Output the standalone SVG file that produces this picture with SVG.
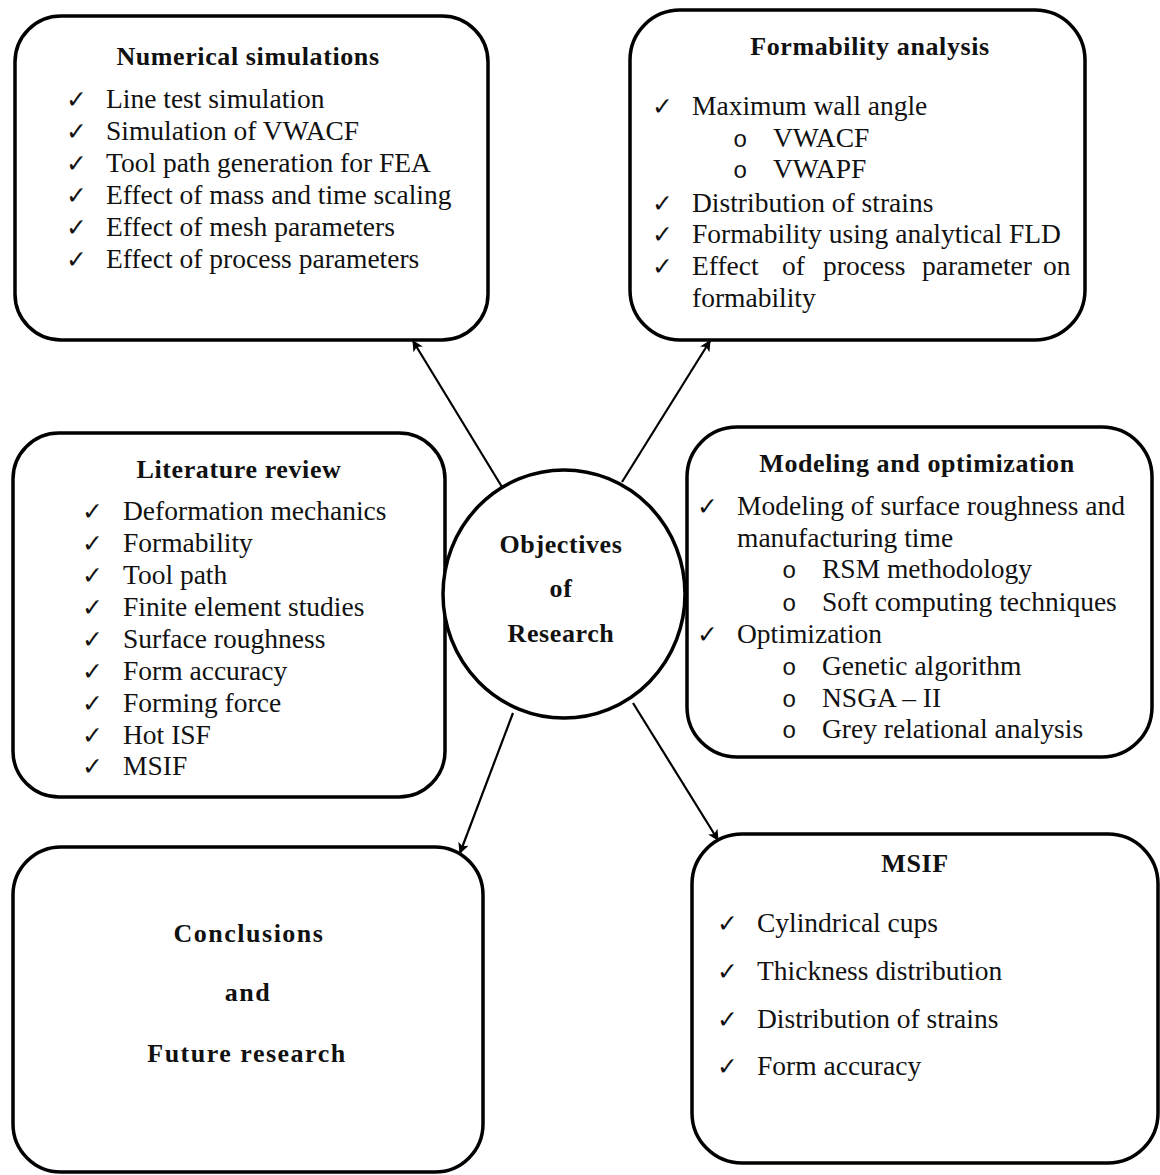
<svg xmlns="http://www.w3.org/2000/svg" width="1160" height="1175" viewBox="0 0 1160 1175">
<style>
.box{fill:#fff;stroke:#000;stroke-width:3.5}
.t{font-family:"Liberation Serif","Times New Roman",serif;font-size:27.5px;fill:#111}
.h{font-family:"Liberation Serif","Times New Roman",serif;font-size:26px;font-weight:bold;fill:#111;text-anchor:middle;letter-spacing:0.6px}
.ck{font-family:"DejaVu Sans",sans-serif;font-size:25px;fill:#111}
.b{font-family:"Liberation Mono","Courier New",monospace;font-size:24px;fill:#111}
.c{stroke:#000;stroke-width:2.2;fill:none;marker-end:url(#ah)}
</style>
<defs>
<marker id="ah" viewBox="0 0 10 10" refX="9" refY="5" markerWidth="5" markerHeight="5" orient="auto" markerUnits="strokeWidth">
<path d="M0,0 L10,5 L0,10 L2.5,5 z" fill="#000"/>
</marker>
</defs>
<rect width="1160" height="1175" fill="#fff"/>

<g id="connectors">
<line class="c" x1="502" y1="487" x2="413" y2="341"/>
<line class="c" x1="622" y1="482" x2="710" y2="341"/>
<line class="c" x1="513" y1="713" x2="460" y2="853"/>
<line class="c" x1="633" y1="703" x2="718" y2="840"/>
</g>

<g id="numerical">
<rect class="box" x="15" y="16" width="473" height="324" rx="46" ry="46"/>
<text class="h" x="248" y="65">Numerical simulations</text>
<text class="ck" x="66" y="108">✓</text><text class="t" x="106" y="108">Line test simulation</text>
<text class="ck" x="66" y="140">✓</text><text class="t" x="106" y="140">Simulation of VWACF</text>
<text class="ck" x="66" y="172">✓</text><text class="t" x="106" y="172">Tool path generation for FEA</text>
<text class="ck" x="66" y="204">✓</text><text class="t" x="106" y="204">Effect of mass and time scaling</text>
<text class="ck" x="66" y="236">✓</text><text class="t" x="106" y="236">Effect of mesh parameters</text>
<text class="ck" x="66" y="268">✓</text><text class="t" x="106" y="268">Effect of process parameters</text>
</g>

<g id="formability">
<rect class="box" x="630" y="10" width="455" height="330" rx="50" ry="50"/>
<text class="h" x="870" y="55">Formability analysis</text>
<text class="ck" x="652" y="115">✓</text><text class="t" x="692" y="115">Maximum wall angle</text>
<text class="b" x="733" y="147">o</text><text class="t" x="773" y="147">VWACF</text>
<text class="b" x="733" y="178">o</text><text class="t" x="773" y="178">VWAPF</text>
<text class="ck" x="652" y="212">✓</text><text class="t" x="692" y="212">Distribution of strains</text>
<text class="ck" x="652" y="243">✓</text><text class="t" x="692" y="243">Formability using analytical FLD</text>
<text class="ck" x="652" y="275">✓</text><text class="t" y="275"><tspan x="692">Effect</tspan><tspan x="782">of</tspan><tspan x="823">process</tspan><tspan x="922">parameter</tspan><tspan x="1043">on</tspan></text>
<text class="t" x="692" y="307">formability</text>
</g>

<g id="literature">
<rect class="box" x="13" y="433" width="432" height="364" rx="46" ry="46"/>
<text class="h" x="239" y="478">Literature review</text>
<text class="ck" x="82" y="520">✓</text><text class="t" x="123" y="520">Deformation mechanics</text>
<text class="ck" x="82" y="552">✓</text><text class="t" x="123" y="552">Formability</text>
<text class="ck" x="82" y="584">✓</text><text class="t" x="123" y="584">Tool path</text>
<text class="ck" x="82" y="616">✓</text><text class="t" x="123" y="616">Finite element studies</text>
<text class="ck" x="82" y="648">✓</text><text class="t" x="123" y="648">Surface roughness</text>
<text class="ck" x="82" y="680">✓</text><text class="t" x="123" y="680">Form accuracy</text>
<text class="ck" x="82" y="712">✓</text><text class="t" x="123" y="712">Forming force</text>
<text class="ck" x="82" y="744">✓</text><text class="t" x="123" y="744">Hot ISF</text>
<text class="ck" x="82" y="775">✓</text><text class="t" x="123" y="775">MSIF</text>
</g>

<g id="objectives">
<ellipse cx="564" cy="594" rx="121" ry="124" fill="#fff" stroke="#000" stroke-width="3.5"/>
<text class="h" x="561" y="553">Objectives</text>
<text class="h" x="561" y="597">of</text>
<text class="h" x="561" y="642">Research</text>
</g>

<g id="modeling">
<rect class="box" x="687" y="427" width="465" height="330" rx="50" ry="50"/>
<text class="h" x="917" y="472">Modeling and optimization</text>
<text class="ck" x="697" y="515">✓</text><text class="t" x="737" y="515">Modeling of surface roughness and</text>
<text class="t" x="737" y="547">manufacturing time</text>
<text class="b" x="782" y="578">o</text><text class="t" x="822" y="578">RSM methodology</text>
<text class="b" x="782" y="611">o</text><text class="t" x="822" y="611">Soft computing techniques</text>
<text class="ck" x="697" y="643">✓</text><text class="t" x="737" y="643">Optimization</text>
<text class="b" x="782" y="675">o</text><text class="t" x="822" y="675">Genetic algorithm</text>
<text class="b" x="782" y="707">o</text><text class="t" x="822" y="707">NSGA – II</text>
<text class="b" x="782" y="738">o</text><text class="t" x="822" y="738">Grey relational analysis</text>
</g>

<g id="conclusions">
<rect class="box" x="13" y="847" width="470" height="325" rx="48" ry="48"/>
<text class="h" x="249" y="942" style="letter-spacing:1.5px">Conclusions</text>
<text class="h" x="248" y="1001" style="letter-spacing:1.5px">and</text>
<text class="h" x="247" y="1062" style="letter-spacing:1.5px">Future research</text>
</g>

<g id="msif">
<rect class="box" x="692" y="834" width="466" height="329" rx="50" ry="50"/>
<text class="h" x="915" y="872">MSIF</text>
<text class="ck" x="717" y="932">✓</text><text class="t" x="757" y="932">Cylindrical cups</text>
<text class="ck" x="717" y="980">✓</text><text class="t" x="757" y="980">Thickness distribution</text>
<text class="ck" x="717" y="1028">✓</text><text class="t" x="757" y="1028">Distribution of strains</text>
<text class="ck" x="717" y="1075">✓</text><text class="t" x="757" y="1075">Form accuracy</text>
</g>
</svg>
